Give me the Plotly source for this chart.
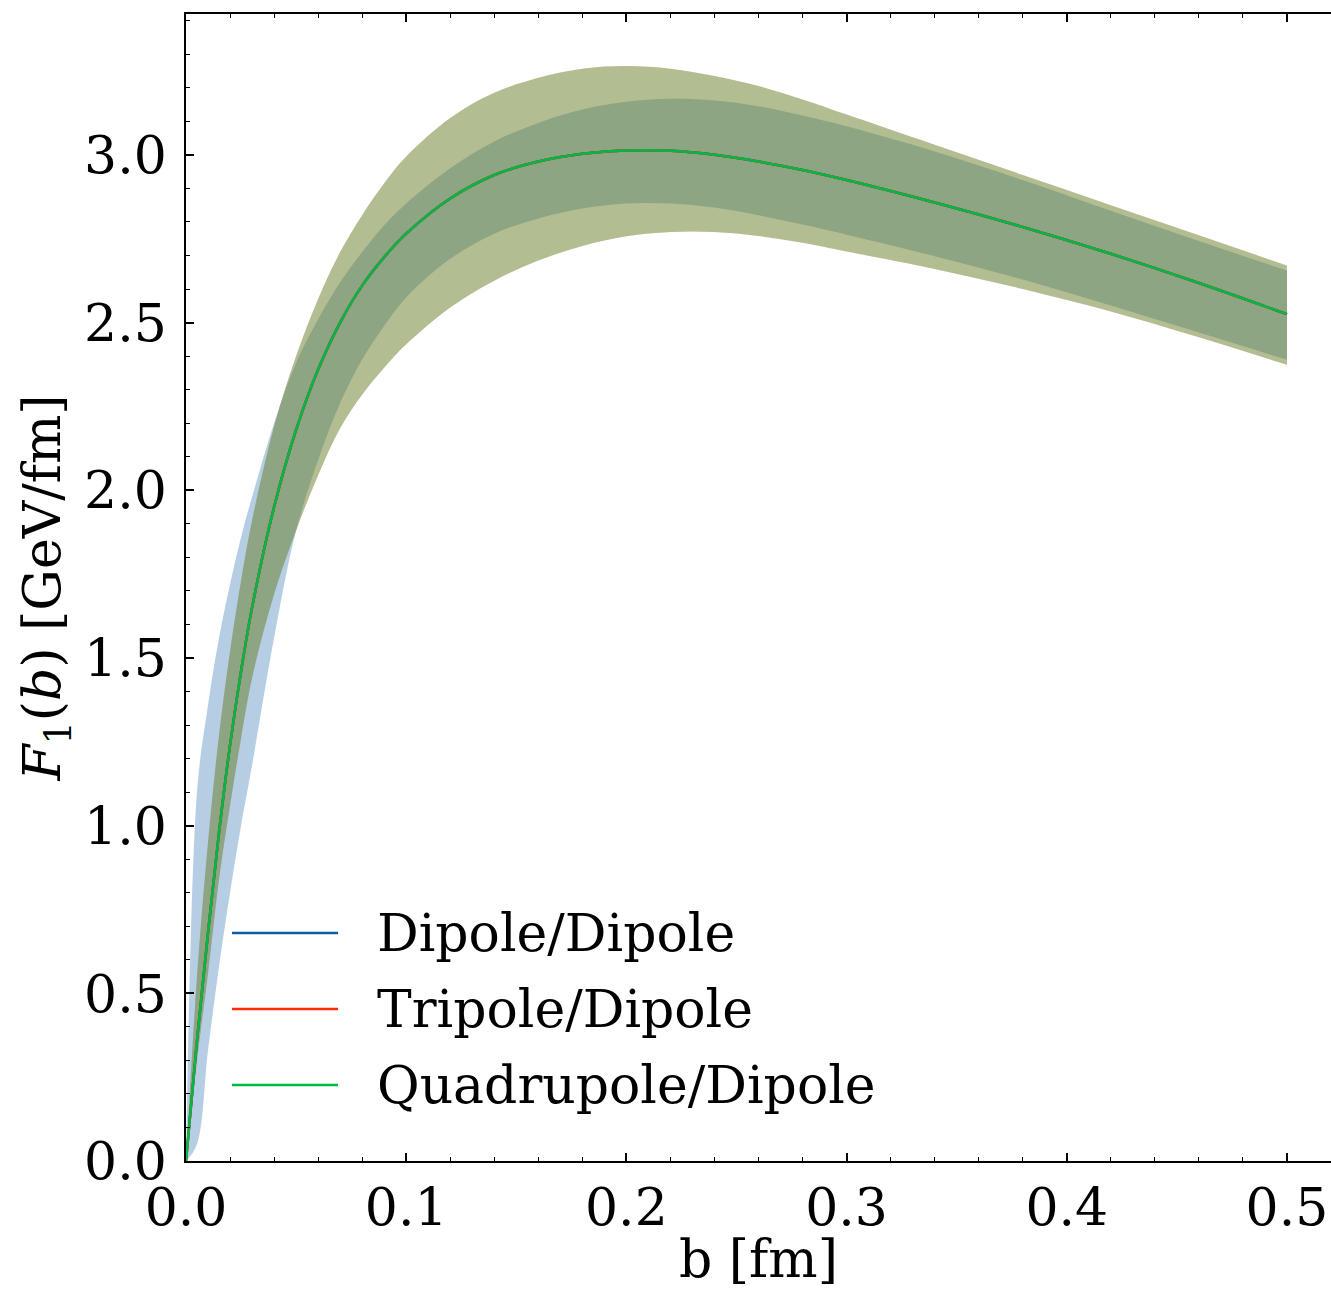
import plotly.graph_objects as go

# ---------------- data ----------------
b = [0.0, 0.005, 0.01, 0.015, 0.02, 0.025, 0.03, 0.04, 0.05, 0.06, 0.07, 0.08, 0.09, 0.10,
     0.12, 0.14, 0.16, 0.18, 0.20, 0.22, 0.24, 0.26, 0.28, 0.30, 0.34, 0.38, 0.42, 0.46, 0.50]

# central values (the three models coincide)
dd_mid = [0.0, 0.36, 0.68, 0.98, 1.24, 1.46, 1.65, 1.95, 2.18, 2.36, 2.50, 2.61, 2.695, 2.765,
          2.87, 2.94, 2.98, 3.003, 3.013, 3.012, 3.00, 2.98, 2.955, 2.925, 2.858, 2.785, 2.705, 2.618, 2.525]
td_mid = [0.0, 0.36, 0.68, 0.98, 1.24, 1.46, 1.65, 1.95, 2.18, 2.36, 2.50, 2.61, 2.695, 2.765,
          2.87, 2.94, 2.98, 3.003, 3.013, 3.012, 3.00, 2.98, 2.955, 2.925, 2.858, 2.785, 2.705, 2.618, 2.525]
qd_mid = [0.0, 0.36, 0.68, 0.98, 1.24, 1.46, 1.65, 1.95, 2.18, 2.36, 2.50, 2.61, 2.695, 2.765,
          2.87, 2.94, 2.98, 3.003, 3.013, 3.012, 3.00, 2.98, 2.955, 2.925, 2.858, 2.785, 2.705, 2.618, 2.525]

# Dipole/Dipole uncertainty band
dd_lo = [0.0, 0.05, 0.33, 0.58, 0.80, 1.00, 1.18, 1.56, 1.88, 2.09, 2.26, 2.39, 2.49, 2.575,
         2.69, 2.765, 2.81, 2.84, 2.855, 2.855, 2.843, 2.82, 2.792, 2.762, 2.698, 2.628, 2.551, 2.47, 2.389]
dd_hi = [0.0, 1.10, 1.36, 1.56, 1.72, 1.86, 1.98, 2.20, 2.38, 2.51, 2.62, 2.71, 2.79, 2.855,
         2.96, 3.04, 3.095, 3.135, 3.158, 3.167, 3.162, 3.145, 3.117, 3.085, 3.01, 2.925, 2.833, 2.743, 2.655]

# Tripole/Dipole uncertainty band
td_lo = [0.0, 0.30, 0.56, 0.84, 1.06, 1.26, 1.44, 1.69, 1.88, 2.045, 2.185, 2.285, 2.365, 2.435,
         2.545, 2.625, 2.685, 2.728, 2.757, 2.77, 2.77, 2.758, 2.738, 2.712, 2.66, 2.60, 2.533, 2.456, 2.374]
td_hi = [0.0, 0.55, 0.95, 1.27, 1.52, 1.73, 1.91, 2.19, 2.40, 2.57, 2.71, 2.82, 2.915, 2.995,
         3.11, 3.185, 3.23, 3.257, 3.265, 3.257, 3.235, 3.205, 3.165, 3.12, 3.03, 2.94, 2.85, 2.76, 2.67]

# Quadrupole/Dipole uncertainty band
qd_lo = [0.0, 0.30, 0.56, 0.84, 1.06, 1.26, 1.44, 1.69, 1.88, 2.045, 2.185, 2.285, 2.365, 2.435,
         2.545, 2.625, 2.685, 2.728, 2.757, 2.77, 2.77, 2.758, 2.738, 2.712, 2.66, 2.60, 2.533, 2.456, 2.374]
qd_hi = [0.0, 0.55, 0.95, 1.27, 1.52, 1.73, 1.91, 2.19, 2.40, 2.57, 2.71, 2.82, 2.915, 2.995,
         3.11, 3.185, 3.23, 3.257, 3.265, 3.257, 3.235, 3.205, 3.165, 3.12, 3.03, 2.94, 2.85, 2.76, 2.67]

names = ["Dipole/Dipole", "Tripole/Dipole", "Quadrupole/Dipole"]
x_ticks = [0.0, 0.1, 0.2, 0.3, 0.4, 0.5]
y_ticks = [0.0, 0.5, 1.0, 1.5, 2.0, 2.5, 3.0]

# ---------------- styling ----------------
colors = ["#0C5DA5", "#FF2C00", "#00B945"]
fills = ["rgba(12,93,165,0.3)", "rgba(255,44,0,0.3)", "rgba(0,185,69,0.3)"]
FONT = "DejaVu Serif"
FS = 52
SM = 1.0

fig = go.Figure()

bands = [(dd_lo, dd_hi), (td_lo, td_hi), (qd_lo, qd_hi)]
mids = [dd_mid, td_mid, qd_mid]

for (lo, hi), fc in zip(bands, fills):
    fig.add_trace(go.Scatter(x=b, y=lo, mode="lines", line=dict(width=0, shape="spline", smoothing=SM),
                             showlegend=False, hoverinfo="skip"))
    fig.add_trace(go.Scatter(x=b, y=hi, mode="lines", line=dict(width=0, shape="spline", smoothing=SM),
                             fill="tonexty", fillcolor=fc, showlegend=False, hoverinfo="skip"))

for mid, col, nm in zip(mids, colors, names):
    fig.add_trace(go.Scatter(x=b, y=mid, mode="lines", name=nm,
                             line=dict(color=col, width=2.5, shape="spline", smoothing=SM),
                             showlegend=False))

# legend drawn with long line samples like the reference
leg_y = [0.1988, 0.1325, 0.0663]
for yy, col, nm in zip(leg_y, colors, names):
    fig.add_shape(type="line", xref="paper", yref="paper", x0=0.0402, x1=0.1328, y0=yy, y1=yy,
                  line=dict(color=col, width=2.5))
    fig.add_annotation(xref="paper", yref="paper", x=0.165, y=yy, text=nm, showarrow=False,
                       xanchor="left", yanchor="middle", font=dict(family=FONT, size=FS, color="black"))

axis_common = dict(
    showline=True, linecolor="black", linewidth=1.6,
    ticks="inside", ticklen=8, tickwidth=1.6, tickcolor="black",
    showgrid=False, zeroline=False,
    tickfont=dict(family=FONT, size=FS, color="black"),
    tickformat=".1f",
)

fig.update_xaxes(range=[0, 0.52], tickvals=x_ticks, mirror="allticks",
                 minor=dict(dtick=0.02, ticks="inside", ticklen=4, tickwidth=1.2, tickcolor="black"),
                 title=dict(text="b [fm]", font=dict(family=FONT, size=FS, color="black"), standoff=6),
                 **axis_common)
fig.update_yaxes(range=[0, 3.42], tickvals=y_ticks, mirror=False, ticklabelstandoff=7,
                 minor=dict(dtick=0.1, ticks="inside", ticklen=4, tickwidth=1.2, tickcolor="black"),
                 title=dict(text="<i>F</i><sub>1</sub>(<i>b</i>) [GeV/fm]",
                            font=dict(family=FONT, size=FS, color="black"), standoff=7),
                 **axis_common)

fig.update_layout(
    width=1331, height=1289,
    margin=dict(l=186, r=0, t=14, b=128, autoexpand=False),
    paper_bgcolor="white", plot_bgcolor="white",
    font=dict(family=FONT, size=FS, color="black"),
    showlegend=False,
)

fig.write_html("out.html")
